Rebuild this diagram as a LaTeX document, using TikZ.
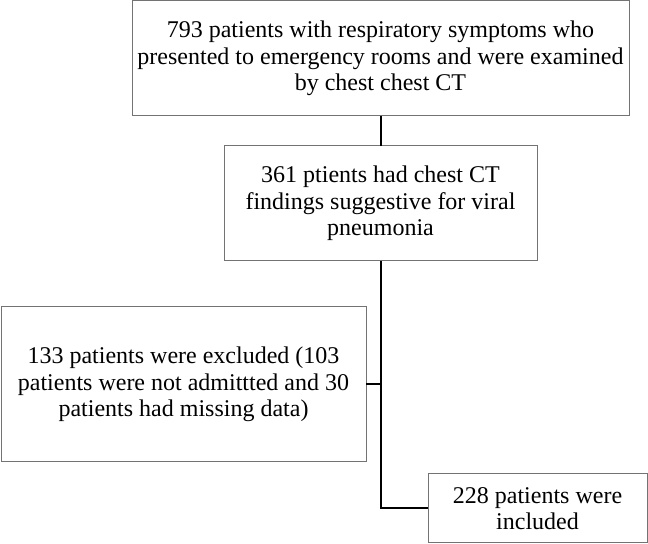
\documentclass[tikz,border=0pt]{standalone}
\usepackage{fontspec}
\setmainfont{Liberation Serif}
\tikzset{
  box/.style={draw=black!55, line width=0.5pt, align=center, inner sep=0pt, outer sep=0pt,
    font=\fontsize{12}{13.2}\selectfont},
  link/.style={draw=black, line width=1pt}
}
\begin{document}
\begin{tikzpicture}[x=0.5pt, y=-0.5pt]
            \useasboundingbox (0,0) rectangle (648,544);
            \node[box, minimum width=248.5pt, minimum height=57.5pt] (all) at (380.5, 58.5)
              {793 patients with respiratory symptoms who\\presented to emergency rooms and were examined\\by chest chest CT};
            \node[box, minimum width=156.5pt, minimum height=57.5pt] (ct) at (380.5, 203.5)
              {361 ptients had chest CT\\findings suggestive for viral\\pneumonia};
            \node[box, minimum width=182.5pt, minimum height=77.5pt] (excl) at (183.5, 384.5)
              {133 patients were excluded (103\\patients were not admittted and 30\\patients had missing data)};
            \node[box, minimum width=109.5pt, minimum height=34.5pt] (incl) at (537.5, 508.5)
              {228 patients were\\included};

            \draw[link] (all) -- (ct);
            \draw[link] (ct) |- (incl);
            \draw[link] (excl) -- (excl -| ct);
        \end{tikzpicture}
\end{document}
